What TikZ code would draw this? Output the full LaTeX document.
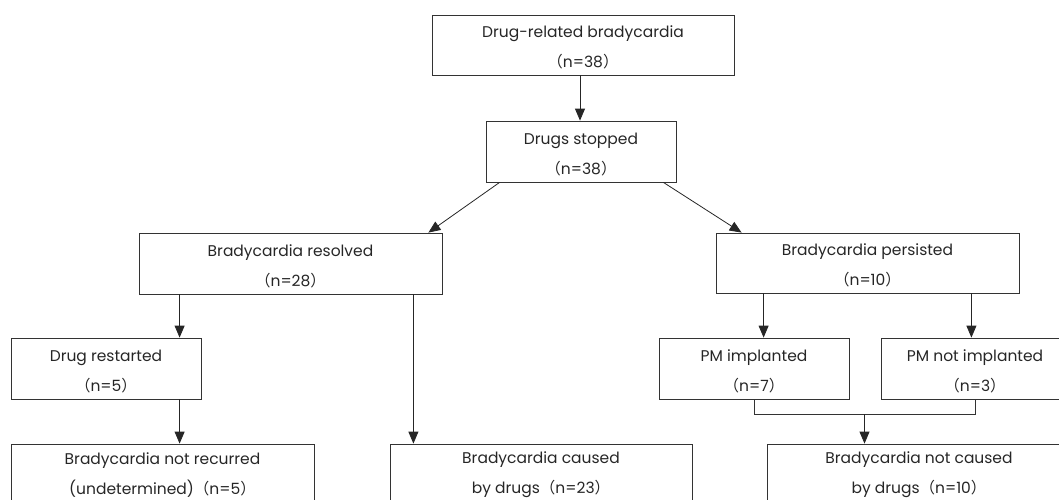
\documentclass[tikz,border=0pt]{standalone}
\usepackage{fontspec}
\setmainfont{Poppins}
\newfontfamily\cjkfont{Noto Sans CJK SC}
\newcommand\lpar{{\cjkfont （}}
\newcommand\rpar{{\cjkfont ）}}
\newcommand\tallstrut{\rule{0pt}{17pt}}
\newcommand\lowstrut{\rule{0pt}{12pt}}
\usetikzlibrary{arrows.meta,calc}
\begin{document}
\begin{tikzpicture}[x=1pt,y=-1pt,
  box/.style={draw=black!80,line width=0.8pt,rectangle,inner sep=0pt,align=center,
    font=\fontsize{15.5}{30}\selectfont,text=black!85},
  arr/.style={draw=black!85,line width=0.8pt,-{Triangle[length=12pt,width=10pt]}},
  ln/.style={draw=black!80,line width=0.8pt}]
\useasboundingbox (0,0) rectangle (1059,499);
\begin{scope}
\clip (0,0) rectangle (1059,499);
\node[box,minimum width=302pt,minimum height=60pt] (top) at (583,45) {\tallstrut Drug-related bradycardia\\\lpar n=38\rpar};
\node[box,minimum width=190pt,minimum height=61pt] (stop) at (581,151.5) {\tallstrut Drugs stopped\\\lpar n=38\rpar};
\node[box,minimum width=303pt,minimum height=61pt] (res) at (290.5,263.5) {\tallstrut Bradycardia resolved\\\lpar n=28\rpar};
\node[box,minimum width=303pt,minimum height=60pt] (per) at (867.5,263) {\tallstrut Bradycardia persisted\\\lpar n=10\rpar};
\node[box,minimum width=190pt,minimum height=61pt] (rst) at (106,368.5) {\tallstrut Drug restarted\\\lpar n=5\rpar};
\node[box,minimum width=190pt,minimum height=61pt] (pmi) at (754,368.5) {\tallstrut PM implanted\\\lpar n=7\rpar};
\node[box,minimum width=188pt,minimum height=61pt] (pmn) at (975,368.5) {\tallstrut PM not implanted\\\lpar n=3\rpar};
\node[box,minimum width=303pt,minimum height=61pt] (nrc) at (162.5,474.5) {\lowstrut Bradycardia not recurred\\(undetermined)\lpar n=5\rpar};
\node[box,minimum width=302pt,minimum height=61pt] (cau) at (541,474.5) {\lowstrut Bradycardia caused\\by drugs\lpar n=23\rpar};
\node[box,minimum width=304pt,minimum height=61pt] (nca) at (919,474.5) {\lowstrut Bradycardia not caused\\by drugs\lpar n=10\rpar};
\end{scope}
\draw[arr] (580,0 |- top.south) -- (580,0 |- stop.north);
\draw[arr] ($(stop.south west)+(14,0)$) -- ($(res.north east)+(-14,0)$);
\draw[arr] ($(stop.south east)+(-13,0)$) -- ($(per.north west)+(26,0)$);
\coordinate (r1) at ($(res.south west)+(41,0)$);
\draw[arr] (r1) -- (r1 |- rst.north);
\draw[arr] (r1 |- rst.south) -- (r1 |- nrc.north);
\coordinate (r2) at ($(res.south east)+(-29,0)$);
\draw[arr] (r2) -- (r2 |- cau.north);
\coordinate (p1) at ($(per.south west)+(48,0)$);
\coordinate (p2) at ($(per.south east)+(-48,0)$);
\draw[arr] (p1) -- (p1 |- pmi.north);
\draw[arr] (p2) -- (p2 |- pmn.north);
\coordinate (j1) at ($(pmi.south)+(0,15)$);
\coordinate (j2) at ($(pmn.south)+(0,15)$);
\draw[ln] (pmi.south) -- (j1) -- (j2) -- (pmn.south);
\coordinate (jm) at ($(j1)!0.5!(j2)$);
\draw[arr] (jm) -- (jm |- nca.north);
\end{tikzpicture}
\end{document}
